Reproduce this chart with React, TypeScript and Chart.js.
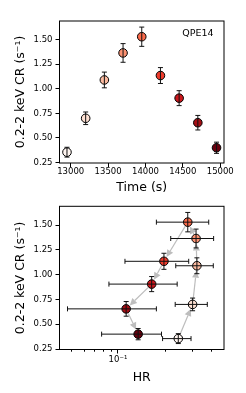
import React, { useEffect, useRef } from 'react';
import { Chart, registerables } from 'chart.js';

Chart.register(...registerables);

// ---- data ----
const times = [12950, 13200, 13450, 13700, 13950, 14200, 14450, 14700, 14950];
const rates = [0.355, 0.7, 1.09, 1.365, 1.53, 1.135, 0.905, 0.655, 0.4];
const rateErr = [0.05, 0.064, 0.08, 0.095, 0.098, 0.081, 0.076, 0.074, 0.057];
const hr = [0.245, 0.303, 0.323, 0.319, 0.282, 0.198, 0.165, 0.113, 0.135];
const hrLo = [0.194, 0.234, 0.236, 0.219, 0.177, 0.111, 0.0875, 0.0473, 0.0785];
const hrHi = [0.296, 0.377, 0.412, 0.414, 0.385, 0.286, 0.241, 0.177, 0.191];
const colors = ['#fff5f0', '#fee0d2', '#fcbba1', '#fc9272', '#fb6a4a', '#ef3b2c', '#cb181d', '#a50f15', '#67000d'];
const timeTicks = [13000, 13500, 14000, 14500, 15000];
const rateTicks = [0.25, 0.5, 0.75, 1.0, 1.25, 1.5];
const hrMajorTicks = [0.1];
const hrMajorLabels = ['10\u207B\u00B9'];
const hrMinorTicks = [0.05, 0.06, 0.07, 0.08, 0.09, 0.2, 0.3, 0.4];
const sourceLabel = 'QPE14';
const yTitle = '0.2-2 keV CR (s\u207B\u00B9)';

const FONT = 'DejaVu Sans';
Chart.defaults.font.family = FONT;
Chart.defaults.color = '#000';

const framePlugin = {
  id: 'frame',
  afterDraw(chart: any) {
    const { ctx, chartArea: a } = chart;
    ctx.save();
    ctx.strokeStyle = '#000';
    ctx.lineWidth = 1;
    ctx.strokeRect(a.left, a.top, a.right - a.left, a.bottom - a.top);
    ctx.restore();
  },
};

function drawCapLine(ctx: any, x1: number, y1: number, x2: number, y2: number, vertical: boolean) {
  const c = 2.5;
  ctx.beginPath();
  ctx.moveTo(x1, y1);
  ctx.lineTo(x2, y2);
  if (vertical) {
    ctx.moveTo(x1 - c, y1); ctx.lineTo(x1 + c, y1);
    ctx.moveTo(x2 - c, y2); ctx.lineTo(x2 + c, y2);
  } else {
    ctx.moveTo(x1, y1 - c); ctx.lineTo(x1, y1 + c);
    ctx.moveTo(x2, y2 - c); ctx.lineTo(x2, y2 + c);
  }
  ctx.stroke();
}

const errTopPlugin = {
  id: 'errTop',
  afterDatasetsDraw(chart: any) {
    const { ctx, scales } = chart;
    ctx.save();
    ctx.strokeStyle = '#111';
    ctx.lineWidth = 1;
    times.forEach((t, i) => {
      const x = scales.x.getPixelForValue(t);
      drawCapLine(ctx, x, scales.y.getPixelForValue(rates[i] - rateErr[i]), x, scales.y.getPixelForValue(rates[i] + rateErr[i]), true);
    });
    ctx.font = `9.5px "${FONT}"`;
    ctx.fillStyle = '#000';
    ctx.textAlign = 'center';
    ctx.textBaseline = 'middle';
    ctx.fillText(sourceLabel, chart.chartArea.right - 26, chart.chartArea.top + 13);
    ctx.restore();
  },
};

const errBottomPlugin = {
  id: 'errBottom',
  beforeDatasetsDraw(chart: any) {
    const { ctx, scales } = chart;
    ctx.save();
    ctx.strokeStyle = '#bdbdbd';
    ctx.fillStyle = '#bdbdbd';
    ctx.lineWidth = 1.2;
    for (let i = 0; i < hr.length - 1; i++) {
      const x1 = scales.x.getPixelForValue(hr[i]);
      const y1 = scales.y.getPixelForValue(rates[i]);
      const x2 = scales.x.getPixelForValue(hr[i + 1]);
      const y2 = scales.y.getPixelForValue(rates[i + 1]);
      const dx = x2 - x1, dy = y2 - y1;
      const L = Math.hypot(dx, dy);
      const ux = dx / L, uy = dy / L;
      const sx = x1 + ux * 5, sy = y1 + uy * 5;
      const ex = x2 - ux * 5, ey = y2 - uy * 5;
      const hl = 7, hw = 3.5;
      const bx = ex - ux * hl, by = ey - uy * hl;
      ctx.beginPath();
      ctx.moveTo(sx, sy);
      ctx.lineTo(bx, by);
      ctx.stroke();
      ctx.beginPath();
      ctx.moveTo(ex, ey);
      ctx.lineTo(bx - uy * hw, by + ux * hw);
      ctx.lineTo(bx + uy * hw, by - ux * hw);
      ctx.closePath();
      ctx.fill();
    }
    ctx.restore();
  },
  afterDatasetsDraw(chart: any) {
    const { ctx, scales, chartArea } = chart;
    ctx.save();
    ctx.strokeStyle = '#111';
    ctx.lineWidth = 1;
    hr.forEach((h, i) => {
      const x = scales.x.getPixelForValue(h);
      const y = scales.y.getPixelForValue(rates[i]);
      drawCapLine(ctx, x, scales.y.getPixelForValue(rates[i] - rateErr[i]), x, scales.y.getPixelForValue(rates[i] + rateErr[i]), true);
      drawCapLine(ctx, scales.x.getPixelForValue(hrLo[i]), y, scales.x.getPixelForValue(hrHi[i]), y, false);
    });
    ctx.strokeStyle = '#000';
    ctx.beginPath();
    hrMinorTicks.forEach((v) => {
      const x = Math.round(scales.x.getPixelForValue(v)) + 0.5;
      ctx.moveTo(x, chartArea.bottom);
      ctx.lineTo(x, chartArea.bottom + 2.2);
    });
    ctx.stroke();
    ctx.restore();
  },
};

function yScale(titlePad: number) {
  return {
    type: 'linear',
    min: 0.245,
    max: 1.69,
    afterBuildTicks: (s: any) => { s.ticks = rateTicks.map((v) => ({ value: v })); },
    afterFit: (s: any) => { s.width = 59.5; },
    ticks: { font: { size: 8.5 }, color: '#000', padding: 3, callback: (v: any) => Number(v).toFixed(2) },
    grid: { drawOnChartArea: false, tickLength: 4, tickColor: '#000' },
    border: { display: false },
    title: { display: true, text: yTitle, font: { size: 12.5 }, color: '#000', padding: { top: titlePad, bottom: 0 } },
  };
}

export default function App() {
  const topRef = useRef<HTMLCanvasElement>(null);
  const botRef = useRef<HTMLCanvasElement>(null);

  useEffect(() => {
    const top = new Chart(topRef.current as HTMLCanvasElement, {
      type: 'scatter',
      data: {
        datasets: [{
          data: times.map((t, i) => ({ x: t, y: rates[i] })),
          pointBackgroundColor: colors,
          pointBorderColor: '#000',
          pointBorderWidth: 1,
          pointRadius: 4.3,
        }],
      },
      options: {
        animation: false,
        responsive: false,
        maintainAspectRatio: false,
        layout: { padding: { top: 21, right: 22, left: 0, bottom: 0 } },
        plugins: { legend: { display: false }, tooltip: { enabled: false } },
        scales: {
          x: {
            type: 'linear',
            min: 12850,
            max: 15050,
            afterBuildTicks: (s: any) => { s.ticks = timeTicks.map((v) => ({ value: v })); },
            afterFit: (s: any) => { s.height = 32; },
            ticks: { font: { size: 8.5 }, color: '#000', padding: 0, maxRotation: 0, autoSkip: false, callback: (v: any) => String(v) },
            grid: { drawOnChartArea: false, tickLength: 4, tickColor: '#000' },
            border: { display: false },
            title: { display: true, text: 'Time (s)', font: { size: 12.5 }, color: '#000', padding: { top: 0, bottom: 0 } },
          },
          y: yScale(12.8) as any,
        },
      },
      plugins: [errTopPlugin, framePlugin],
    } as any);

    const bot = new Chart(botRef.current as HTMLCanvasElement, {
      type: 'scatter',
      data: {
        datasets: [{
          data: hr.map((h, i) => ({ x: h, y: rates[i] })),
          pointBackgroundColor: colors,
          pointBorderColor: '#000',
          pointBorderWidth: 1,
          pointRadius: 4.3,
        }],
      },
      options: {
        animation: false,
        responsive: false,
        maintainAspectRatio: false,
        layout: { padding: { top: 11.3, right: 22, left: 0, bottom: 0 } },
        plugins: { legend: { display: false }, tooltip: { enabled: false } },
        scales: {
          x: {
            type: 'logarithmic',
            min: 0.042,
            max: 0.483,
            afterBuildTicks: (s: any) => { s.ticks = hrMajorTicks.map((v) => ({ value: v })); },
            afterFit: (s: any) => { s.height = 43.5; },
            ticks: {
              font: { size: 8.5 }, color: '#000', padding: 1, maxRotation: 0, autoSkip: false,
              callback: (v: any) => { const k = hrMajorTicks.indexOf(Number(v)); return k >= 0 ? hrMajorLabels[k] : ''; },
            },
            grid: { drawOnChartArea: false, tickLength: 4, tickColor: '#000' },
            border: { display: false },
            title: { display: true, text: 'HR', font: { size: 12.5 }, color: '#000', padding: { top: 0, bottom: 8 } },
          },
          y: yScale(12.8) as any,
        },
      },
      plugins: [errBottomPlugin, framePlugin],
    } as any);

    return () => { top.destroy(); bot.destroy(); };
  }, []);

  return (
    <div style={{ position: 'absolute', left: 0, top: 0, width: 246, height: 393, background: '#fff' }}>
      <canvas ref={topRef} width={246} height={195} style={{ position: 'absolute', left: 0, top: 0, width: 246, height: 195 }} />
      <canvas ref={botRef} width={246} height={198} style={{ position: 'absolute', left: 0, top: 195, width: 246, height: 198 }} />
    </div>
  );
}
